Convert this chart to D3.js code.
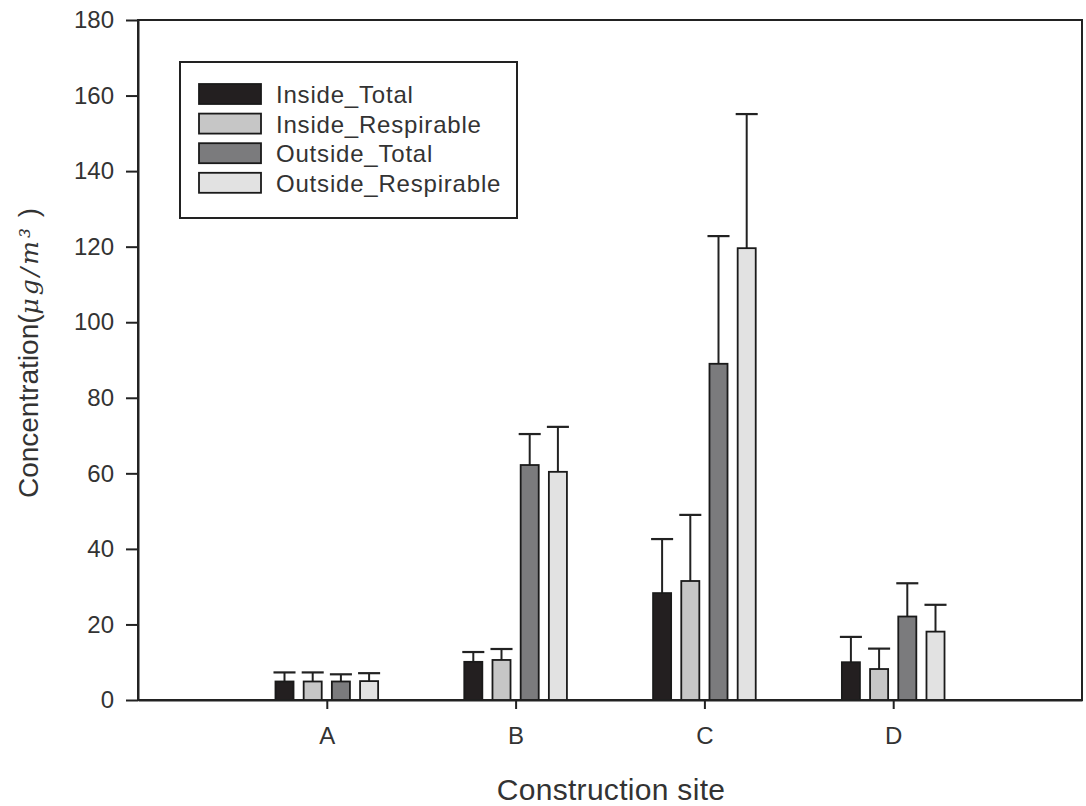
<!DOCTYPE html>
<html>
<head>
<meta charset="utf-8">
<script src="https://cdn.jsdelivr.net/npm/d3@7"></script>
<style>
  body { margin: 0; background: #fff; }
  svg text { font-family: "Liberation Sans", Arial, sans-serif; fill: #333; }
</style>
</head>
<body>
<script>
const w = 1086, h = 806;

// data
const sites = ['A', 'B', 'C', 'D'];
const series = ['Inside_Total', 'Inside_Respirable', 'Outside_Total', 'Outside_Respirable'];
const insideTotal = [4.9, 10.1, 28.3, 10.0];
const insideTotalErr = [2.4, 2.6, 14.3, 6.7];
const insideResp = [4.9, 10.6, 31.5, 8.2];
const insideRespErr = [2.4, 2.9, 17.5, 5.4];
const outsideTotal = [4.9, 62.2, 89.0, 22.1];
const outsideTotalErr = [1.9, 8.2, 33.8, 8.8];
const outsideResp = [5.0, 60.4, 119.6, 18.1];
const outsideRespErr = [2.1, 11.9, 35.5, 7.1];
const yTicks = [0, 20, 40, 60, 80, 100, 120, 140, 160, 180];

const colors = ['#231f20', '#c6c6c6', '#7b7b7d', '#e2e2e2'];
const means = [insideTotal, insideResp, outsideTotal, outsideResp];
const errs = [insideTotalErr, insideRespErr, outsideTotalErr, outsideRespErr];

let rows = [];
sites.forEach((s, i) => {
    series.forEach((k, j) => {
        rows.push({ site: s, key: k, value: means[j][i], err: errs[j][i], color: colors[j] });
    });
});

const plotL = 138, plotR = 1082, plotT = 20, plotB = 700;

let svg = d3.select('body')
    .append('svg')
    .attr('width', w)
    .attr('height', h);

const xScale = d3.scalePoint()
    .domain(sites)
    .range([plotL, plotR])
    .padding(1);

const subScale = d3.scaleBand()
    .domain(series)
    .range([-56.4, 56.4])
    .paddingInner(0.36)
    .paddingOuter(0.18);

const yScale = d3.scaleLinear()
    .domain([0, 180])
    .range([plotB, plotT]);

// frame
svg.append('rect')
    .attr('x', plotL)
    .attr('y', plotT)
    .attr('width', plotR - plotL)
    .attr('height', plotB - plotT)
    .attr('fill', 'none')
    .attr('stroke', '#222')
    .attr('stroke-width', 2);

// bars
let bars = svg.selectAll('.bar')
    .data(rows)
    .enter()
    .append('g')
    .attr('class', 'bar');

bars.append('line')
    .attr('x1', d => xScale(d.site) + subScale(d.key) + subScale.bandwidth() / 2)
    .attr('x2', d => xScale(d.site) + subScale(d.key) + subScale.bandwidth() / 2)
    .attr('y1', d => yScale(d.value))
    .attr('y2', d => yScale(d.value + d.err))
    .attr('stroke', '#222')
    .attr('stroke-width', 2);

bars.append('line')
    .attr('x1', d => xScale(d.site) + subScale(d.key) - 2)
    .attr('x2', d => xScale(d.site) + subScale(d.key) + subScale.bandwidth() + 2)
    .attr('y1', d => yScale(d.value + d.err))
    .attr('y2', d => yScale(d.value + d.err))
    .attr('stroke', '#222')
    .attr('stroke-width', 2.2);

bars.append('rect')
    .attr('x', d => xScale(d.site) + subScale(d.key))
    .attr('y', d => yScale(d.value))
    .attr('width', subScale.bandwidth())
    .attr('height', d => plotB - yScale(d.value))
    .attr('fill', d => d.color)
    .attr('stroke', '#1a1a1a')
    .attr('stroke-width', 1.8);

// axes
const yAxis = d3.axisLeft(yScale).tickValues(yTicks).tickSize(12).tickSizeOuter(0).tickPadding(12);
const xAxis = d3.axisBottom(xScale).tickSize(9).tickSizeOuter(0).tickPadding(18);

let gy = svg.append('g')
    .attr('transform', 'translate(' + plotL + ', 0)')
    .call(yAxis);
gy.select('.domain').attr('stroke', '#222').attr('stroke-width', 2);
gy.selectAll('.tick line').attr('stroke', '#222').attr('stroke-width', 2);
gy.selectAll('.tick text').style('font-size', '24px');

let gx = svg.append('g')
    .attr('transform', 'translate(0, ' + plotB + ')')
    .call(xAxis);
gx.select('.domain').attr('stroke', '#222').attr('stroke-width', 2);
gx.selectAll('.tick line').attr('stroke', '#222').attr('stroke-width', 2);
gx.selectAll('.tick text').style('font-size', '24px');

// axis titles
svg.append('text')
    .attr('x', 611)
    .attr('y', 800)
    .attr('text-anchor', 'middle')
    .style('font-size', '30px')
    .style('letter-spacing', '0.3px')
    .text('Construction site');

let ylab = svg.append('text')
    .attr('transform', 'translate(38, 353) rotate(-90)')
    .attr('text-anchor', 'middle')
    .style('font-size', '28px');
ylab.append('tspan').text('Concentration(');
ylab.append('tspan')
    .style('font-family', '"DejaVu Serif", "Liberation Serif", serif')
    .style('font-style', 'italic')
    .style('font-size', '25px')
    .style('letter-spacing', '3px')
    .text('μg/m³');
ylab.append('tspan').text(' )');

// legend
svg.append('rect')
    .attr('x', 180)
    .attr('y', 62)
    .attr('width', 337)
    .attr('height', 156)
    .attr('fill', '#fff')
    .attr('stroke', '#222')
    .attr('stroke-width', 2);

let legend = svg.selectAll('.legend')
    .data(series)
    .enter()
    .append('g')
    .attr('class', 'legend')
    .attr('transform', (d, i) => `translate(199, ${84 + i * 29.6})`);

legend.append('rect')
    .attr('width', 62)
    .attr('height', 20)
    .attr('fill', (d, i) => colors[i])
    .attr('stroke', '#1a1a1a')
    .attr('stroke-width', 1.8);

legend.append('text')
    .attr('x', 77)
    .attr('y', 19)
    .style('font-size', '24px')
    .style('letter-spacing', '0.8px')
    .text(d => d);
</script>
</body>
</html>
